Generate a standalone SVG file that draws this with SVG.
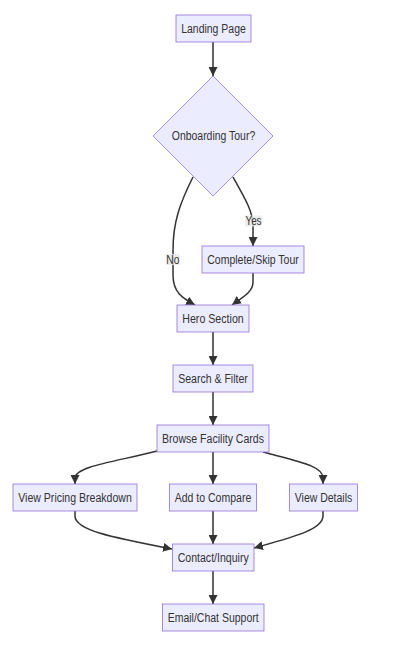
<svg xmlns="http://www.w3.org/2000/svg" width="420" height="645" viewBox="0 0 420 645">
<defs>
<style>
.node rect, .node polygon { fill: #ECECFF; stroke: #9370DB; stroke-width: 0.8; }
.node text { font-family: "Liberation Sans", Arial, sans-serif; font-size: 12px; fill: #333; text-anchor: middle; dominant-baseline: central; }
.edges path { fill: none; stroke: #333; stroke-width: 1.5; marker-end: url(#arrow); }
.lbl rect { fill: #e8e8e8; opacity: 0.8; }
.lbl text { font-family: "Liberation Sans", Arial, sans-serif; font-size: 12px; fill: #333; text-anchor: middle; dominant-baseline: central; }
</style>
<marker id="arrow" viewBox="0 0 10 10" refX="10" refY="5" markerUnits="userSpaceOnUse" markerWidth="9" markerHeight="9" orient="auto">
<path d="M0,0 L10,5 L0,10 z" fill="#333"/>
</marker>
</defs>
<rect width="420" height="645" fill="#fff"/>
<g id="connectors" class="edges">
<path d="M213,42 L213,76"/>
<path d="M193,177 C180,203 173,222 173,250 L173,275 C173,292 182,298 195,305"/>
<path d="M233,177 C246,200 253,212 253,226 L253,246"/>
<path d="M253,273 L253,282 C253,292 243,297 232,305"/>
<path d="M213,332 L213,365"/>
<path d="M213,392 L213,425"/>
<path d="M157,451 C120,461 75,466 75,478 L75,484"/>
<path d="M213,452 L213,484"/>
<path d="M263,452 C300,462 323,466 323,478 L323,484"/>
<path d="M75,511 L75,516 C75,530 110,537 172,549"/>
<path d="M213,511 L213,544"/>
<path d="M323,511 L323,516 C323,530 290,538 254,548"/>
<path d="M213,571 L213,604"/>
</g>
<g class="lbl" id="label-yes"><rect x="245" y="215.5" width="17" height="11"/><text x="253.5" y="221" textLength="16" lengthAdjust="spacingAndGlyphs">Yes</text></g>
<g class="lbl" id="label-no"><rect x="166" y="254" width="13.5" height="11"/><text x="172.8" y="259.5" textLength="13" lengthAdjust="spacingAndGlyphs">No</text></g>
<g class="node" id="landing"><rect x="176" y="15" width="75" height="27"/><text x="213.5" y="28.5" textLength="64.6" lengthAdjust="spacingAndGlyphs">Landing Page</text></g>
<g class="node" id="tour"><polygon points="213,76 273,136 213,196 153,136"/><text x="213.5" y="135.5" textLength="83.4" lengthAdjust="spacingAndGlyphs">Onboarding Tour?</text></g>
<g class="node" id="complete"><rect x="202" y="246" width="102" height="27"/><text x="253" y="259.5" textLength="91.5" lengthAdjust="spacingAndGlyphs">Complete/Skip Tour</text></g>
<g class="node" id="hero"><rect x="177" y="305" width="72" height="27"/><text x="213" y="318.5" textLength="61.5" lengthAdjust="spacingAndGlyphs">Hero Section</text></g>
<g class="node" id="search"><rect x="173" y="365" width="80" height="27"/><text x="213" y="378.5" textLength="69.5" lengthAdjust="spacingAndGlyphs">Search &amp; Filter</text></g>
<g class="node" id="browse"><rect x="157" y="425" width="112" height="27"/><text x="213" y="438.5" textLength="102" lengthAdjust="spacingAndGlyphs">Browse Facility Cards</text></g>
<g class="node" id="pricing"><rect x="13" y="484" width="124" height="27"/><text x="75" y="497.5" textLength="113.5" lengthAdjust="spacingAndGlyphs">View Pricing Breakdown</text></g>
<g class="node" id="compare"><rect x="169.5" y="484" width="87" height="27"/><text x="213" y="497.5" textLength="76.5" lengthAdjust="spacingAndGlyphs">Add to Compare</text></g>
<g class="node" id="details"><rect x="289.5" y="484" width="68" height="27"/><text x="323.5" y="497.5" textLength="57.5" lengthAdjust="spacingAndGlyphs">View Details</text></g>
<g class="node" id="contact"><rect x="172.5" y="544" width="81.5" height="27"/><text x="213.2" y="557.5" textLength="71" lengthAdjust="spacingAndGlyphs">Contact/Inquiry</text></g>
<g class="node" id="email"><rect x="162.5" y="604" width="101.5" height="27"/><text x="213.2" y="617.5" textLength="91" lengthAdjust="spacingAndGlyphs">Email/Chat Support</text></g>
</svg>
